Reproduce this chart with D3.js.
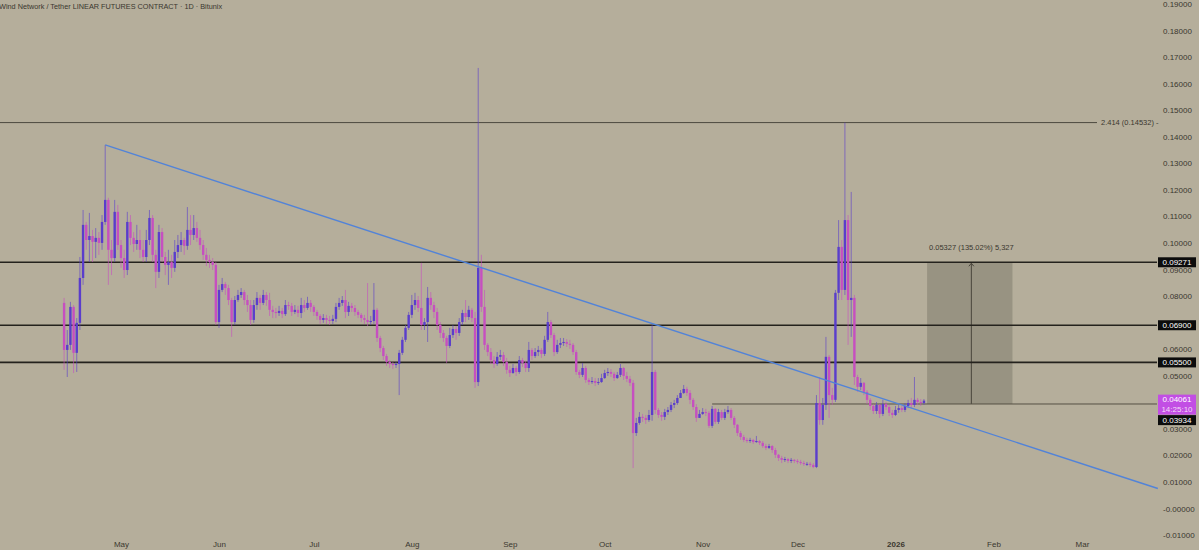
<!DOCTYPE html>
<html>
<head>
<meta charset="utf-8">
<script src="https://cdn.jsdelivr.net/npm/d3@7"></script>
<style>
  html, body { margin: 0; padding: 0; background: #b5ae9b; }
  svg { display: block; font-family: "Liberation Sans", Arial, sans-serif; }
</style>
</head>
<body>
<svg id="chart" width="1199" height="550"></svg>
<script>
// Daily candles, first one on 2025-04-13. Prices in 1/10000 USDT, open = previous close.
const PIP = 1e-4;
const firstDay = "2025-04-13";
const firstOpen = 774;

const closes = [
  597, 616, 759, 586, 699, 868, 1068, 1011, 1026, 1004, 1019, 1000, 1079, 1162, 974, 943, 1117, 992,                               // Apr
  943, 898, 1079, 1019, 996, 1011, 974, 947, 1011, 1094, 955, 891, 1041, 947, 917, 928, 906, 966, 992, 1011, 989, 1049, 1030, 1056, 1019, 992, 955, 936, 928, 917, 702, // May
  823, 845, 830, 785, 702, 785, 804, 815, 785, 766, 710, 766, 793, 774, 804, 785, 748, 740, 736, 744, 732, 766, 763, 740, 748, 736, 766, 755, 774, 759,      // Jun
  740, 725, 710, 717, 710, 706, 714, 759, 774, 785, 740, 763, 755, 740, 729, 717, 710, 702, 706, 748, 642, 604, 574, 552, 544, 540, 544, 586, 635, 680, 729, // Jul
  766, 785, 755, 691, 702, 793, 766, 740, 691, 661, 642, 612, 653, 676, 661, 702, 736, 721, 748, 717, 476, 906, 759, 616, 589, 559, 544, 571, 578, 552, 522, // Aug
  510, 529, 514, 559, 548, 529, 597, 574, 589, 597, 582, 635, 702, 653, 589, 616, 623, 627, 620, 616, 589, 514, 503, 529, 484, 476, 480, 473, 476, 491,      // Sep
  510, 514, 507, 491, 503, 529, 499, 488, 473, 284, 322, 345, 341, 333, 352, 514, 371, 352, 345, 363, 371, 390, 397, 416, 435, 450, 435, 409, 382, 341, 356, // Oct
  363, 360, 311, 375, 326, 363, 341, 363, 371, 341, 315, 284, 269, 258, 254, 258, 250, 254, 247, 235, 228, 235, 220, 202, 190, 183, 186, 179, 183, 179,      // Nov
  175, 171, 168, 168, 164, 156, 397, 333, 390, 571, 427, 409, 812, 985, 823, 1086, 785, 793, 495, 458, 473, 439, 409, 386, 367, 390, 356, 393, 382, 360, 352, // Dec
  371, 378, 371, 386, 397, 390, 409, 401, 397, 406.1                                                                                 // Jan
];

const highs = [
  793, 672, 778, 766, 717, 947, 1124, 1079, 1113, 1049, 1056, 1041, 1105, 1369, 1170, 1011, 1162, 1143,
  1011, 974, 1117, 1105, 1041, 1068, 1049, 1011, 1049, 1124, 1105, 974, 1068, 1056, 966, 974, 955, 1011, 1030, 1041, 1019, 1135, 1105, 1105, 1079, 1049, 1011, 981, 955, 943, 928,
  842, 868, 853, 842, 793, 800, 823, 830, 823, 804, 785, 785, 815, 804, 823, 815, 812, 763, 755, 763, 755, 785, 778, 774, 766, 763, 793, 785, 797, 785,
  766, 748, 732, 732, 729, 725, 729, 774, 793, 800, 823, 778, 774, 766, 748, 736, 729, 849, 725, 849, 755, 650, 612, 582, 559, 552, 552, 597, 646, 691, 740,
  804, 812, 800, 925, 717, 834, 815, 778, 755, 702, 672, 650, 680, 691, 687, 717, 748, 785, 763, 755, 740, 1659, 955, 823, 623, 604, 574, 589, 597, 589, 567,
  537, 544, 537, 574, 567, 556, 627, 604, 604, 612, 604, 650, 740, 710, 661, 635, 642, 642, 638, 635, 623, 597, 522, 548, 537, 491, 495, 491, 491, 507,
  522, 529, 525, 514, 514, 544, 533, 514, 499, 484, 341, 363, 356, 352, 371, 691, 522, 378, 363, 375, 382, 401, 409, 427, 446, 465, 458, 446, 416, 393, 371,
  378, 375, 367, 386, 378, 375, 371, 375, 386, 378, 348, 318, 292, 277, 266, 266, 262, 273, 258, 254, 243, 243, 239, 228, 205, 198, 194, 190, 190, 186,
  186, 183, 179, 175, 175, 171, 427, 495, 416, 646, 578, 454, 823, 1086, 1011, 1453, 1105, 1192, 804, 503, 491, 476, 446, 416, 393, 401, 393, 409, 401, 390, 371,
  386, 390, 386, 397, 409, 416, 495, 416, 412, 412
];

const lows = [
  522, 495, 597, 510, 514, 672, 842, 974, 928, 928, 943, 955, 974, 1068, 842, 879, 928, 974,
  906, 868, 879, 992, 966, 974, 943, 928, 928, 992, 928, 830, 868, 928, 879, 842, 868, 891, 943, 966, 955, 974, 992, 1011, 1004, 974, 936, 913, 906, 898, 691,
  680, 815, 804, 766, 646, 691, 778, 793, 766, 740, 691, 699, 748, 748, 766, 763, 725, 717, 717, 725, 717, 725, 748, 725, 732, 721, 717, 740, 748, 740,
  725, 710, 695, 699, 695, 691, 695, 702, 748, 763, 717, 725, 740, 725, 717, 702, 695, 687, 691, 695, 627, 589, 559, 537, 529, 525, 529, 427, 578, 627, 672,
  717, 748, 740, 672, 672, 627, 748, 717, 672, 642, 627, 548, 604, 642, 635, 650, 691, 702, 710, 702, 454, 461, 740, 597, 574, 544, 529, 537, 559, 537, 507,
  495, 507, 499, 507, 533, 514, 514, 559, 567, 574, 567, 574, 627, 642, 574, 582, 604, 612, 608, 601, 578, 503, 491, 495, 473, 465, 469, 461, 465, 473,
  488, 499, 495, 480, 488, 495, 484, 476, 461, 152, 273, 315, 326, 318, 326, 330, 356, 341, 330, 333, 352, 363, 378, 390, 416, 431, 424, 393, 371, 326, 341,
  352, 348, 303, 303, 318, 318, 333, 333, 356, 333, 303, 273, 258, 250, 247, 247, 243, 247, 239, 228, 220, 224, 209, 190, 179, 171, 175, 171, 171, 171,
  168, 164, 160, 160, 156, 152, 152, 315, 315, 371, 341, 390, 401, 785, 785, 804, 616, 646, 465, 439, 446, 427, 393, 371, 356, 356, 341, 348, 371, 348, 341,
  348, 360, 363, 363, 378, 378, 382, 390, 386, 390
];

// drawings
const levelPrices = [0.09271, 0.06900, 0.05500];
const levelLabels = ["0.09271", "0.06900", "0.05500"];
const fibPrice = 0.14532;
const fibLabel = "2.414 (0.14532) -";
const rayStart = "2025-11-04";
const rayPrice = 0.03934;
const trendPoints = [{date: "2025-04-26", price: 0.1369}, {date: "2026-03-25", price: 0.0075}];
const rangeBox = {from: "2026-01-11", to: "2026-02-07", mid: "2026-01-25", low: 0.03934, high: 0.09271};
const rangeText = "0.05327 (135.02%) 5,327";
const lastPrice = "0.04061";
const countdown = "14:25:10";

// 0.07 and 0.04 sit under the price tags, so they are not shown
const priceTicks = [0.19, 0.18, 0.17, 0.16, 0.15, 0.14, 0.13, 0.12, 0.11, 0.10, 0.09, 0.08, 0.06, 0.05, 0.03, 0.02, 0.01, 0, -0.01];
const monthTicks = ["2025-05-01", "2025-06-01", "2025-07-01", "2025-08-01", "2025-09-01", "2025-10-01", "2025-11-01", "2025-12-01", "2026-01-01", "2026-02-01", "2026-03-01"];
const monthLabels = ["May", "Jun", "Jul", "Aug", "Sep", "Oct", "Nov", "Dec", "2026", "Feb", "Mar"];

const title = "Wind Network / Tether LINEAR FUTURES CONTRACT \u00b7 1D \u00b7 Bitunix";

const upColor = "#5a3dcc";
const downColor = "#c64fc0";
const textColor = "#3a372f";

const parse = d3.utcParse("%Y-%m-%d");
const start = parse(firstDay);
const candles = closes.map((c, i) => ({
    date: d3.utcDay.offset(start, i),
    open: (i === 0 ? firstOpen : closes[i - 1]) * PIP,
    high: highs[i] * PIP,
    low: lows[i] * PIP,
    close: c * PIP
}));

const svg = d3.select("#chart");
const plotRight = 1157;

const x = d3.scaleUtc()
    .domain([parse("2025-05-01"), parse("2026-03-01")])
    .range([121, 1082]);
const y = d3.scaleLinear()
    .domain([0.19, -0.01])
    .range([3.95, 535]);
const bodyW = 2.4;

// range measure box
const midX = x(parse(rangeBox.mid));
svg.append("rect")
    .attr("x", x(parse(rangeBox.from)))
    .attr("y", y(rangeBox.high))
    .attr("width", x(parse(rangeBox.to)) - x(parse(rangeBox.from)))
    .attr("height", y(rangeBox.low) - y(rangeBox.high))
    .attr("fill", "#989382");
svg.append("line")
    .attr("x1", midX).attr("x2", midX)
    .attr("y1", y(rangeBox.low)).attr("y2", y(rangeBox.high) + 1)
    .attr("stroke", "#4a463c").attr("stroke-width", 1);
svg.append("path")
    .attr("d", `M${midX - 2.5},${y(rangeBox.high) + 4}L${midX},${y(rangeBox.high) + 1}L${midX + 2.5},${y(rangeBox.high) + 4}`)
    .attr("fill", "none").attr("stroke", "#4a463c");
svg.append("text")
    .attr("x", midX)
    .attr("y", y(rangeBox.high) - 15)
    .attr("dy", "0.35em")
    .attr("text-anchor", "middle")
    .attr("font-size", 7.5)
    .attr("fill", textColor)
    .text(rangeText);

// fib extension level
svg.append("line")
    .attr("x1", 0).attr("x2", 1097)
    .attr("y1", y(fibPrice)).attr("y2", y(fibPrice))
    .attr("stroke", "#4d493f").attr("stroke-width", 1);
svg.append("text")
    .attr("x", 1101).attr("y", y(fibPrice)).attr("dy", "0.35em")
    .attr("font-size", 7.5).attr("fill", textColor)
    .text(fibLabel);

// horizontal levels
svg.selectAll(".level")
    .data(levelPrices)
    .join("line")
    .attr("class", "level")
    .attr("x1", 0).attr("x2", plotRight)
    .attr("y1", d => y(d)).attr("y2", d => y(d))
    .attr("stroke", "#24221d").attr("stroke-width", 1.6);

svg.append("line")
    .attr("x1", x(parse(rayStart))).attr("x2", plotRight)
    .attr("y1", y(rayPrice)).attr("y2", y(rayPrice))
    .attr("stroke", "#555044").attr("stroke-width", 1);

// candles
const candleG = svg.append("g");
candleG.selectAll(".wick")
    .data(candles)
    .join("line")
    .attr("class", "wick")
    .attr("x1", d => x(d.date)).attr("x2", d => x(d.date))
    .attr("y1", d => y(d.high)).attr("y2", d => y(d.low))
    .attr("stroke", d => d.close >= d.open ? upColor : downColor)
    .attr("stroke-opacity", 0.6)
    .attr("stroke-width", 1);
candleG.selectAll(".body")
    .data(candles)
    .join("rect")
    .attr("class", "body")
    .attr("x", d => x(d.date) - bodyW / 2)
    .attr("width", bodyW)
    .attr("y", d => y(Math.max(d.open, d.close)))
    .attr("height", d => Math.max(1, Math.abs(y(d.open) - y(d.close))))
    .attr("fill", d => d.close >= d.open ? upColor : downColor);

// trend line
svg.append("line")
    .attr("x1", x(parse(trendPoints[0].date))).attr("y1", y(trendPoints[0].price))
    .attr("x2", x(parse(trendPoints[1].date))).attr("y2", y(trendPoints[1].price))
    .attr("stroke", "#5283d8").attr("stroke-width", 1.4);

// title
svg.append("text")
    .attr("x", -1).attr("y", 6).attr("dy", "0.35em")
    .attr("font-size", 7.3).attr("fill", textColor)
    .text(title);

// price axis
const yAxis = svg.append("g")
    .attr("transform", "translate(1163,0)")
    .call(d3.axisRight(y)
        .tickValues(priceTicks)
        .tickSize(0)
        .tickPadding(0)
        .tickFormat(d => Math.abs(d) < 1e-9 ? "-0.00000" : d.toFixed(5)));
yAxis.select(".domain").remove();
yAxis.selectAll("text").attr("font-size", 8).attr("fill", textColor)
    .attr("font-family", "Liberation Sans, Arial, sans-serif");

// time axis
const xAxis = svg.append("g")
    .attr("transform", "translate(0,541)")
    .call(d3.axisBottom(x)
        .tickValues(monthTicks.map(parse))
        .tickSize(0)
        .tickPadding(0)
        .tickFormat((d, i) => monthLabels[i]));
xAxis.select(".domain").remove();
xAxis.selectAll("text").attr("font-size", 8).attr("fill", textColor)
    .attr("font-family", "Liberation Sans, Arial, sans-serif")
    .attr("font-weight", d => d.getUTCMonth() === 0 ? "bold" : null);

// price labels on the axis
const tagG = svg.append("g");
levelPrices.forEach((p, i) => {
    tagG.append("rect")
        .attr("x", 1158).attr("y", y(p) - 5).attr("width", 38).attr("height", 10)
        .attr("fill", "#0c0c0c");
    tagG.append("text")
        .attr("x", 1177).attr("y", y(p)).attr("dy", "0.35em")
        .attr("text-anchor", "middle").attr("font-size", 8).attr("fill", "#ffffff")
        .text(levelLabels[i]);
});

const lastY = y(+lastPrice);
tagG.append("rect")
    .attr("x", 1158).attr("y", lastY - 6).attr("width", 38).attr("height", 20)
    .attr("fill", "#c24ee4");
tagG.append("text")
    .attr("x", 1177).attr("y", lastY - 1.2).attr("dy", "0.35em")
    .attr("text-anchor", "middle").attr("font-size", 8).attr("fill", "#ffffff")
    .text(lastPrice);
tagG.append("text")
    .attr("x", 1177).attr("y", lastY + 8.6).attr("dy", "0.35em")
    .attr("text-anchor", "middle").attr("font-size", 8).attr("fill", "#f3dcf7")
    .text(countdown);

// ray label pushed below the last price tag
tagG.append("rect")
    .attr("x", 1158).attr("y", lastY + 14.5).attr("width", 38).attr("height", 10)
    .attr("fill", "#0c0c0c");
tagG.append("text")
    .attr("x", 1177).attr("y", lastY + 19.5).attr("dy", "0.35em")
    .attr("text-anchor", "middle").attr("font-size", 8).attr("fill", "#ffffff")
    .text(rayPrice.toFixed(5));
</script>
</body>
</html>
